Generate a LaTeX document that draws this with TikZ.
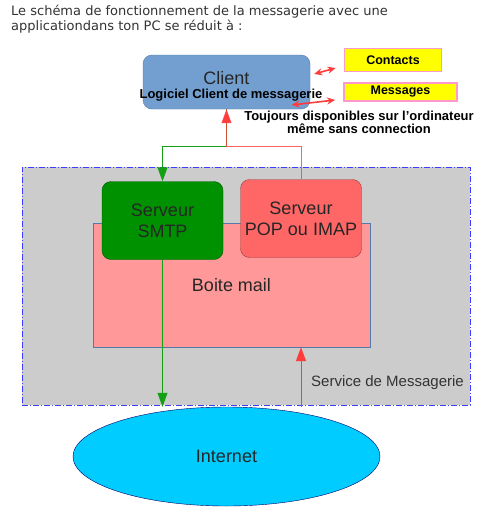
\documentclass[tikz,border=0pt]{standalone}
\usepackage{fontspec}
\setmainfont{Liberation Sans}
\newfontfamily\titlefont{DejaVu Sans}
\usetikzlibrary{arrows.meta,calc,shapes.geometric}
\definecolor{clientblue}{RGB}{114,159,207}
\definecolor{clientedge}{RGB}{85,120,170}
\definecolor{smtpgreen}{RGB}{0,145,0}
\definecolor{popred}{RGB}{255,102,102}
\definecolor{boitepink}{RGB}{255,153,153}
\definecolor{servgray}{RGB}{204,204,204}
\definecolor{servedge}{RGB}{60,60,255}
\definecolor{netcyan}{RGB}{0,204,255}
\definecolor{tagpink}{RGB}{255,153,204}
\definecolor{tagyellow}{RGB}{255,255,0}
\definecolor{greenlink}{RGB}{20,160,20}
\definecolor{redlink}{RGB}{255,60,60}

\begin{document}
\begin{tikzpicture}[x=1pt,y=-1pt,
    srvbox/.style={rounded corners=9pt,draw=#1!60!black,fill=#1,minimum width=121pt,
      minimum height=78pt,align=center,inner sep=0pt,
      font=\fontsize{18}{21}\selectfont,text=black!85},
    tagbox/.style={draw=tagpink,line width=1.8pt,fill=tagyellow,inner sep=0pt,
      font=\fontsize{12.5}{14}\selectfont\bfseries},
    boldnote/.style={font=\fontsize{13}{13}\selectfont\bfseries,align=center,inner sep=0pt},
    flowtip/.style={-{Triangle[length=14pt,width=10pt]}},
    duo/.style={redlink,line width=1.6pt,{Stealth[length=8pt,width=7pt]}-{Stealth[length=8pt,width=7pt]}}]
  \useasboundingbox[fill=white] (0,0) rectangle (478,517);
  % Intro text
  \node[anchor=north west,align=left,inner sep=0pt,text=black!80,
    font=\titlefont\fontsize{13}{15}\selectfont] (intro) at (11,5)
    {Le schéma de fonctionnement de la messagerie avec une\\applicationdans ton PC se réduit à :};
  % Service area
  \node[draw=servedge,fill=servgray,line width=0.8pt,
    dash pattern=on 6pt off 2pt on 1pt off 2pt,
    minimum width=448pt,minimum height=238pt,inner sep=0pt] (service) at (246,286) {};
  \node[anchor=east,font=\fontsize{15}{15}\selectfont,text=black!80,inner sep=0pt]
    (servlabel) at (464,383) {Service de Messagerie};
  \node[draw=clientedge,fill=boitepink,minimum width=277pt,minimum height=124pt,
    inner sep=0pt,font=\fontsize{18}{18}\selectfont,text=black!85] (boite) at (231.5,285) {Boite mail};
  % Servers
  \node[srvbox=smtpgreen] (smtp) at (162.5,220.5) {Serveur\\SMTP};
  \node[srvbox=popred] (pop) at (301,218.5) {Serveur\\POP ou IMAP};
  % Client side
  \node[srvbox=clientblue,draw=clientedge,minimum width=167pt,minimum height=54pt,
    text depth=8pt] (client) at (226.5,82) {Client};
  \node[boldnote] (logiciel) at (231,95) {Logiciel Client de messagerie};
  \node[tagbox,minimum width=97pt,minimum height=23pt] (contacts) at (393,60) {Contacts};
  \node[tagbox,minimum width=113pt,minimum height=18pt] (messages) at (400.5,92) {Messages};
  \node[boldnote] (toujours) at (359,122) {Toujours disponibles sur l'ordinateur\\même sans connection};
  \coordinate (ca) at ($(client.east)+(4,-8)$);
  \coordinate (cb) at ($(contacts.west)+(-8,8)$);
  \coordinate (ma) at ($(logiciel.east)+(-31,10)$);
  \coordinate (mb) at ($(messages.west)+(-8,8)$);
  \draw[duo] (ca) -- (cb);
  \draw[duo] (ma) -- (mb);
  % Internet
  \node[ellipse,draw=blue!40!black,fill=netcyan,minimum width=307pt,minimum height=99pt,
    inner sep=0pt,font=\fontsize{18}{18}\selectfont,text=black!85] (internet) at (226.5,456.5) {Internet};
  % Flows
  \coordinate (split) at ($(client.south)+(0,37)$);
  \draw[greenlink,line width=1pt,flowtip] (client.south) -- (split) -| (smtp.north);
  \draw[greenlink,line width=1pt,flowtip] (smtp.south) -- (smtp.south |- internet.north);
  \draw[redlink,line width=1pt,flowtip,draw opacity=0.8] (pop.north) |- (split) -- (client.south);
  \draw[redlink,line width=1pt,flowtip] (internet.north -| pop) -- (boite.south -| pop);
\end{tikzpicture}
\end{document}
